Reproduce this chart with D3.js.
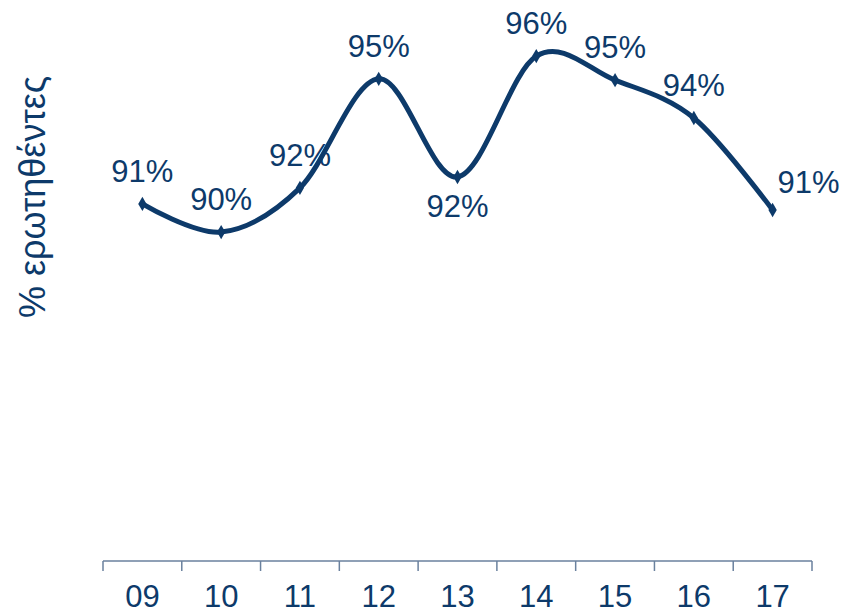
<!DOCTYPE html>
<html>
<head>
<meta charset="utf-8">
<script src="https://cdn.jsdelivr.net/npm/d3@7"></script>
<style>
  body { margin: 0; background: #ffffff; }
  svg { display: block; }
</style>
</head>
<body>
<svg id="chart"></svg>
<script>
// Survey years (x categories) and share of respondents
const years = ["09", "10", "11", "12", "13", "14", "15", "16", "17"];
const shares = [91.14, 90.26, 91.64, 95.04, 91.98, 95.75, 95.00, 93.82, 90.95];
const yTitle = "% ερωτηθέντες";

document.addEventListener("DOMContentLoaded", function() {
    const width = 848, height = 613;
    const margin = { top: 0, right: 36, bottom: 52, left: 103 };
    const innerW = width - margin.left - margin.right,
        innerH = height - margin.top - margin.bottom;

    const navy = "#0d3a6a";
    const axisColor = "#6a819e";

    const svg = d3.select("#chart")
        .attr("width", width)
        .attr("height", height);

    const g = svg.append("g")
        .attr("transform", `translate(${margin.left}, ${margin.top})`);

    // Scales
    const x = d3.scaleBand()
        .domain(years)
        .range([0, innerW])
        .padding(0);

    const y = d3.scaleLinear()
        .domain([80, 97.5])
        .range([innerH, 0]);

    const cx = d => x(d) + x.bandwidth() / 2;

    // X axis: labels centred in each band, ticks on band edges
    const xAxis = g.append("g")
        .attr("transform", `translate(0, ${innerH})`)
        .call(d3.axisBottom(x).tickSize(0).tickPadding(24));
    xAxis.select(".domain").remove();
    xAxis.selectAll("text")
        .attr("dy", "0.71em")
        .style("font-family", "'Liberation Sans Narrow', 'Liberation Sans', Arial, sans-serif")
        .style("font-size", "31px")
        .style("fill", navy);

    g.append("line")
        .attr("x1", 0).attr("x2", innerW)
        .attr("y1", innerH).attr("y2", innerH)
        .attr("stroke", axisColor)
        .attr("stroke-width", 1.5);

    const edges = years.map(d => x(d)).concat([innerW]);
    g.selectAll(".edge").data(edges)
        .enter().append("line")
        .attr("class", "edge")
        .attr("x1", d => d).attr("x2", d => d)
        .attr("y1", innerH).attr("y2", innerH + 10)
        .attr("stroke", axisColor)
        .attr("stroke-width", 1.5);

    // Y title
    svg.append("text")
        .attr("transform", "translate(45, 197) rotate(-90)")
        .attr("text-anchor", "middle")
        .style("font-family", "'Liberation Sans', Arial, sans-serif")
        .style("font-size", "36px")
        .style("fill", navy)
        .text(yTitle);

    // Smoothed line
    const pts = years.map((d, i) => ({ year: d, v: shares[i] }));

    const line = d3.line()
        .x(d => cx(d.year))
        .y(d => y(d.v))
        .curve(d3.curveCatmullRom.alpha(0));

    g.append("path")
        .datum(pts)
        .attr("fill", "none")
        .attr("stroke", navy)
        .attr("stroke-width", 5)
        .attr("stroke-linejoin", "round")
        .attr("d", line);

    g.selectAll(".marker").data(pts)
        .enter().append("path")
        .attr("class", "marker")
        .attr("d", d3.symbol().type(d3.symbolDiamond).size(60))
        .attr("transform", d => `translate(${cx(d.year)}, ${y(d.v)})`)
        .attr("fill", navy);

    // Value labels: above by default, 13 below, last one to the right
    const fmt = d => d3.format(".0f")(d) + "%";
    g.selectAll(".lbl").data(pts)
        .enter().append("text")
        .attr("class", "lbl")
        .attr("x", (d, i) => cx(d.year) + (i === pts.length - 1 ? 36 : 0))
        .attr("y", d => {
            if (d.year === "13") return y(d.v) + 40;
            if (d.year === "17") return y(d.v) - 17;
            return y(d.v) - 22;
        })
        .attr("text-anchor", "middle")
        .style("font-family", "'Liberation Sans', Arial, sans-serif")
        .style("font-size", "31px")
        .style("fill", navy)
        .text(d => fmt(d.v));
});
</script>
</body>
</html>
